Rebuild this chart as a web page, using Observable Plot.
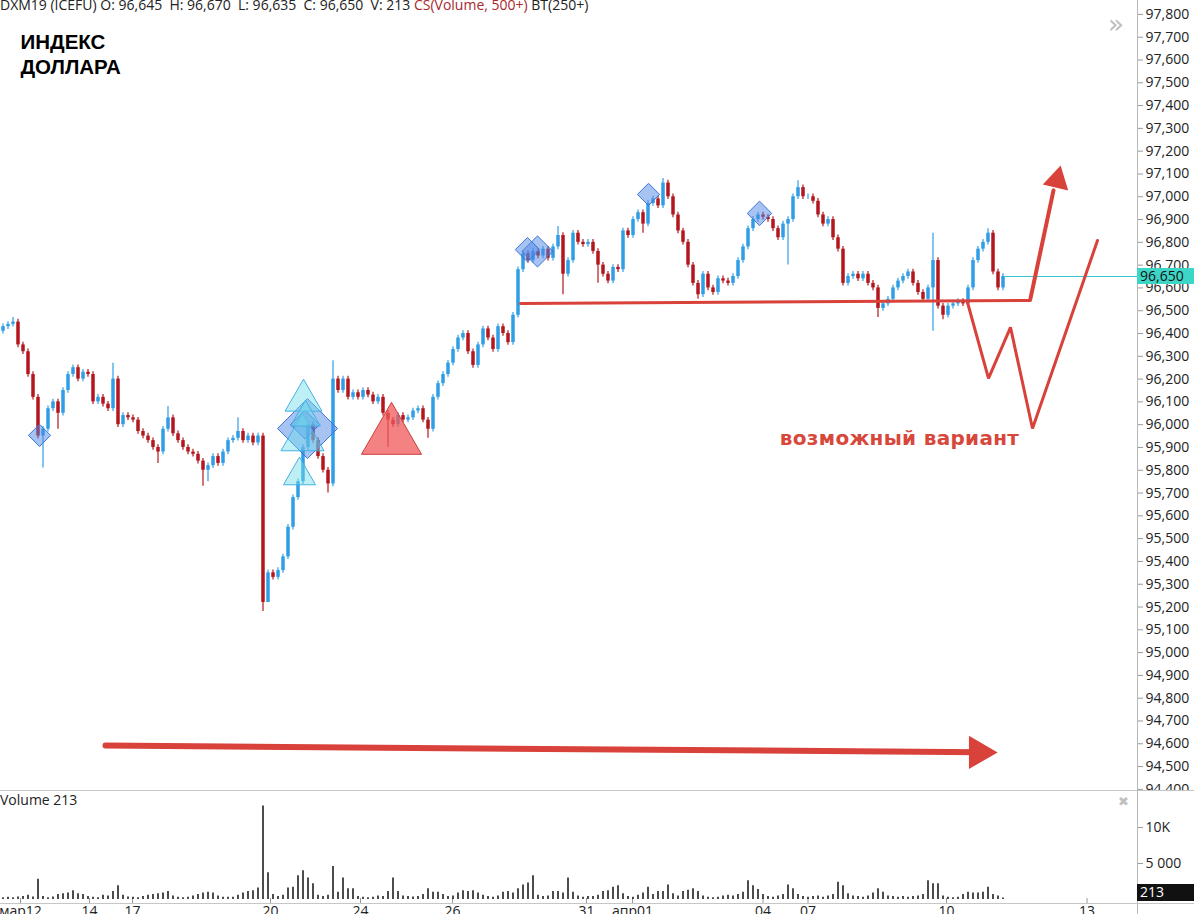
<!DOCTYPE html>
<html><head><meta charset="utf-8">
<script src="https://cdn.jsdelivr.net/npm/d3@7"></script>
<script src="https://cdn.jsdelivr.net/npm/@observablehq/plot@0.6"></script>
<style>
html,body{margin:0;padding:0;background:#fff;overflow:hidden}
#wrap{position:relative;width:1194px;height:914px;overflow:hidden;font-family:"Open Sans",sans-serif;background:#fff}
#price,#vol{position:absolute;left:0}
#price{top:0}
#vol{top:790px}
.hline{position:absolute;left:0;width:1194px;height:1px;background:#c6c6c6}
.vline{position:absolute;left:1137px;top:0;width:1px;height:914px;background:#b8b8b8}
#header{position:absolute;left:0;top:-4px;font-size:14px;line-height:18px;color:#222;white-space:nowrap}
#header .cs{color:#a8282e}
#vlabel{position:absolute;left:0;top:791px;font-size:14px;line-height:18px;color:#222}
.box{position:absolute;left:1137px;width:57px;height:16px;font-size:14px;line-height:16px;text-align:left;padding-left:3px;box-sizing:border-box}
#icon1{position:absolute;left:1108px;top:9px;font-size:26px;color:#bdbdbd;font-family:"DejaVu Sans"}
#icon2{position:absolute;left:1118px;top:794px;font-size:13px;color:#c0c0c0;font-family:"DejaVu Sans"}
</style></head>
<body><div id="wrap">
<div id="price"></div><div id="vol"></div>
</div>
<script>
// ---- data ----
const closes = [
96.43,96.44,96.45,96.35,96.32,96.22,96.12,95.95,95.98,96.07,
96.10,96.05,96.15,96.22,96.25,96.20,96.23,96.22,96.10,96.12,
96.09,96.07,96.20,96.00,96.04,96.03,96.02,95.97,95.95,95.93,
95.90,95.88,95.98,96.03,95.96,95.93,95.90,95.88,95.87,95.84,
95.80,95.82,95.86,95.83,95.88,95.93,95.94,95.97,95.93,95.95,
95.92,95.95,95.22,95.35,95.33,95.36,95.42,95.55,95.68,95.75,
95.90,96.00,95.93,95.86,95.80,95.74,96.20,96.15,96.20,96.12,
96.14,96.12,96.15,96.13,96.10,96.12,96.05,96.02,96.00,96.04,
96.02,96.03,96.06,96.07,96.02,95.98,96.12,96.18,96.22,96.27,
96.33,96.38,96.40,96.32,96.26,96.35,96.42,96.38,96.33,96.43,
96.40,96.36,96.48,96.68,96.75,96.72,96.76,96.74,96.77,96.73,
96.78,96.83,96.66,96.72,96.84,96.80,96.79,96.80,96.76,96.70,
96.66,96.63,96.69,96.68,96.85,96.83,96.90,96.93,96.88,96.97,
96.99,96.96,97.06,97.00,96.92,96.85,96.80,96.70,96.62,96.57,
96.66,96.60,96.58,96.64,96.63,96.62,96.65,96.72,96.78,96.86,
96.90,96.92,96.91,96.90,96.86,96.82,96.88,96.90,97.00,97.04,
97.00,97.00,96.98,96.92,96.88,96.90,96.82,96.77,96.62,96.65,
96.66,96.64,96.66,96.62,96.60,96.51,96.53,96.55,96.60,96.63,
96.65,96.67,96.62,96.58,96.55,96.60,96.72,96.52,96.48,96.52,
96.53,96.54,96.53,96.60,96.72,96.77,96.80,96.84,96.67,96.60,
96.65];
const firstOpen = 96.41;
const volumes = [
250,300,250,350,400,600,350,2800,400,250,
350,700,800,900,1200,800,700,400,300,250,
600,500,1100,1900,600,350,300,250,400,600,
700,800,900,1100,500,300,250,300,500,700,
900,1000,900,500,300,300,300,600,900,1100,
1200,1600,13000,3700,700,400,600,1600,1700,3300,
4000,3000,2200,600,400,600,4600,1000,3000,1500,
1500,400,300,250,300,500,400,1100,3000,1100,
500,400,350,400,700,1500,1000,1000,700,400,
500,900,1200,1100,1200,900,600,400,300,500,
1000,1100,900,1500,2000,2300,3300,600,400,500,
1100,1100,900,3000,1000,500,300,400,400,600,
1100,1200,1700,1900,800,400,300,600,900,1700,
700,1100,1100,2000,800,500,1100,1300,1500,1100,
500,300,250,300,500,600,500,700,1000,2600,
1900,1400,700,400,300,500,700,2000,1500,700,
400,300,400,500,300,500,700,2400,1900,800,
500,400,300,500,900,1500,1000,500,400,300,
400,300,400,500,700,2600,2200,2200,500,300,
250,300,700,1000,900,900,1000,1700,700,500,
213];
const highSpikes = [[2,96.47],[22,96.27],[33,96.08],[47,96.03],[66,96.28],[111,96.87],[132,97.08],[159,97.07],[186,96.84],[197,96.86]];
const lowSpikes = [[8,95.81],[11,95.98],[31,95.83],[40,95.73],[41,95.75],[52,95.18],[53,95.28],[65,95.70],[77,95.90],[85,95.94],[112,96.57],[119,96.62],[128,96.84],[139,96.55],[157,96.70],[175,96.47],[186,96.41],[188,96.46]];
const priceTicks = [94.4,94.5,94.6,94.7,94.8,94.9,95.0,95.1,95.2,95.3,95.4,95.5,95.6,95.7,95.8,95.9,96.0,96.1,96.2,96.3,96.4,96.5,96.6,96.7,96.8,96.9,97.0,97.1,97.2,97.3,97.4,97.5,97.6,97.7,97.8];
const dateTicks = [3.5,17.3,25.9,53.5,71.5,89.9,116.7,125.9,152,161,188.7,216.8];
const dateLabels = ["мар12","14","17","20","24","26","31","апр01","04","07","10","13"];
const volTicks = [5000,10000];
const volTickLabels = ["5 000","10K"];
const diamondPts = [[7.3,95.953],[60.9,95.983],[60.4,96.0],[104.9,96.768],[106.9,96.76],[129.1,97.01],[151.3,96.927]];
const cyanTriPts = [[60.1,96.106],[60.5,96.032],[59.9,95.94],[59.3,95.777]];
const redTriPts = [[77.7,95.946]];
const supportLine = [[103.5,96.532],[205.5,96.545]];
const wPath = [[192.9,96.536],[197.1,96.203],[201.5,96.427],[205.9,95.983],[218.9,96.808]];
const upArrow = [[205.5,96.554],[210.1,97.028]];
const upArrowHead = [[210.84,97.073]];
const trendArrow = [[20.5,94.592],[195.6,94.563]];
const trendArrowHead = [[195.1,94.562]];
const noteText = "возможный вариант";
const notePos = [[179.3,95.94]];
const titleText = "ИНДЕКС\nДОЛЛАРА";
const lastClose = 96.65, lastVolume = 213;

// ---- styles ----
const BLUE = "#2f9ee6", RED = "#b3161c", ANNO = "#d9423a";
const diamondR = [10,27,13,11,14,10,11];
const cyanTriR = [13.7,11.1,16,11.9];
const redTriR = [22.3];
const wickPad = 0.012;

const hiMap = new Map(highSpikes), loMap = new Map(lowSpikes);
const bars = closes.map((c, i) => {
  const o = i === 0 ? firstOpen : closes[i - 1];
  return {i, o, c, up: c >= o,
    h: hiMap.has(i) ? hiMap.get(i) : Math.max(o, c) + wickPad,
    l: loMap.has(i) ? loMap.get(i) : Math.min(o, c) - wickPad,
    v: volumes[i]};
});
const upBars = bars.filter(d => d.up), dnBars = bars.filter(d => !d.up);
const pts = (arr, rs) => arr.map((p, k) => ({x: p[0], y: p[1], r: rs ? rs[k] : 0}));

const X = {domain: [-0.5, 226.9]};
const axisFont = "Open Sans";

const price = Plot.plot({
  width: 1194, height: 790, marginTop: 0, marginBottom: 0, marginLeft: 0, marginRight: 57,
  x: {...X, axis: null},
  y: {domain: [94.395, 97.861]},
  r: {type: "identity"},
  style: {background: "#fff", overflow: "visible"},
  marks: [
    Plot.axisY({anchor: "right", ticks: priceTicks, tickSize: 5, tickPadding: 3, tickFormat: d => d.toFixed(3).replace(".", ","), fontSize: 14, fontFamily: axisFont, stroke: "#9a9a9a", fill: "#222", label: null}),
    Plot.ruleX(upBars, {x: "i", y1: "l", y2: "h", stroke: BLUE, strokeWidth: 1.2}),
    Plot.ruleX(dnBars, {x: "i", y1: "l", y2: "h", stroke: RED, strokeWidth: 1.2}),
    Plot.ruleX(upBars, {x: "i", y1: "o", y2: "c", stroke: BLUE, strokeWidth: 3.5}),
    Plot.ruleX(dnBars, {x: "i", y1: "o", y2: "c", stroke: RED, strokeWidth: 3.5}),
    Plot.ruleY([lastClose], {x1: 200.5, x2: 226.9, stroke: "#35c6cf", strokeWidth: 1}),
    Plot.dot(pts(diamondPts, diamondR), {x: "x", y: "y", r: "r", symbol: "diamond2", fill: "#4f88e6", fillOpacity: 0.5, stroke: "#3b74d8", strokeWidth: 1}),
    Plot.dot(pts(cyanTriPts, cyanTriR), {x: "x", y: "y", r: "r", symbol: "triangle", fill: "#6fdbe8", fillOpacity: 0.45, stroke: "#45b0e5", strokeWidth: 1}),
    Plot.dot(pts(redTriPts, redTriR), {x: "x", y: "y", r: "r", symbol: "triangle", fill: "#f25858", fillOpacity: 0.75, stroke: "#c8403c", strokeWidth: 1}),
    Plot.line(supportLine, {x: d => d[0], y: d => d[1], stroke: ANNO, strokeWidth: 3}),
    Plot.line(wPath, {x: d => d[0], y: d => d[1], stroke: ANNO, strokeWidth: 3, strokeLinejoin: "miter"}),
    Plot.line(upArrow, {x: d => d[0], y: d => d[1], stroke: ANNO, strokeWidth: 4}),
    Plot.dot(upArrowHead, {x: d => d[0], y: d => d[1], r: 9.7, symbol: "triangle", fill: ANNO, rotate: 13}),
    Plot.line(trendArrow, {x: d => d[0], y: d => d[1], stroke: ANNO, strokeWidth: 6}),
    Plot.dot(trendArrowHead, {x: d => d[0], y: d => d[1], r: 12.3, symbol: "triangle", fill: ANNO, rotate: 90}),
    Plot.text(notePos, {x: d => d[0], y: d => d[1], text: () => noteText, fill: "#d8473b", fontSize: 20, fontWeight: "bold", fontFamily: "DejaVu Sans", textAnchor: "middle"}),
    Plot.text([titleText], {frameAnchor: "top-left", dx: 20, dy: 31, fontSize: 20.5, fontWeight: "bold", fontFamily: "Liberation Sans", lineHeight: 1.22, lineAnchor: "top", fill: "#000"})
  ]
});
document.getElementById("price").appendChild(price);
d3.select(price).selectAll("text").filter(function(){ return this.textContent === noteText; }).style("letter-spacing", "0.3px");

const vol = Plot.plot({
  width: 1194, height: 124, marginTop: 0, marginBottom: 11, marginLeft: 0, marginRight: 57,
  x: X,
  y: {domain: [-555.6, 15138.9]},
  style: {background: "#fff", overflow: "visible"},
  marks: [
    Plot.axisY({anchor: "right", ticks: volTicks, tickSize: 5, tickPadding: 3, tickFormat: d => volTickLabels[volTicks.indexOf(d)], fontSize: 14, fontFamily: axisFont, stroke: "#9a9a9a", fill: "#222", label: null}),
    Plot.axisX({ticks: dateTicks, tickSize: 0, tickPadding: 3, tickFormat: d => dateLabels[dateTicks.indexOf(d)], fontSize: 14, fontFamily: axisFont, fill: "#222", label: null}),
    Plot.ruleX(dateTicks, {x: d => d, insetTop: 108, stroke: "#9a9a9a"}),
    Plot.ruleX(bars, {x: "i", y1: 0, y2: "v", stroke: "#111", strokeWidth: 1.5})
  ]
});
document.getElementById("vol").appendChild(vol);

// chrome: separators, header, value boxes
const wrap = document.getElementById("wrap");
function add(html){ wrap.insertAdjacentHTML("beforeend", html); }
add('<div class="hline" style="top:790px"></div>');
add('<div class="hline" style="top:903px"></div>');
add('<div class="vline"></div>');
add('<div id="header">DXM19 (ICEFU) O: 96,645&nbsp; H: 96,670&nbsp; L: 96,635&nbsp; C: 96,650&nbsp; V: 213 <span class="cs">CS(Volume, 500+)</span> BT(250+)</div>');
add('<div id="vlabel">Volume 213</div>');
add('<div id="icon1">»</div>');
add('<div id="icon2">✖</div>');
const py = price.scale("y").apply(lastClose);
add(`<div class="box" style="top:${py - 8}px;background:#3dd6c6;color:#111">${lastClose.toFixed(3).replace(".", ",")}</div>`);
const vy = 790 + Math.min(vol.scale("y").apply(lastVolume), 113 - 9);
add(`<div class="box" style="top:${vy - 10}px;height:17px;background:#111;color:#fff">${lastVolume}</div>`);
</script>
</body></html>
